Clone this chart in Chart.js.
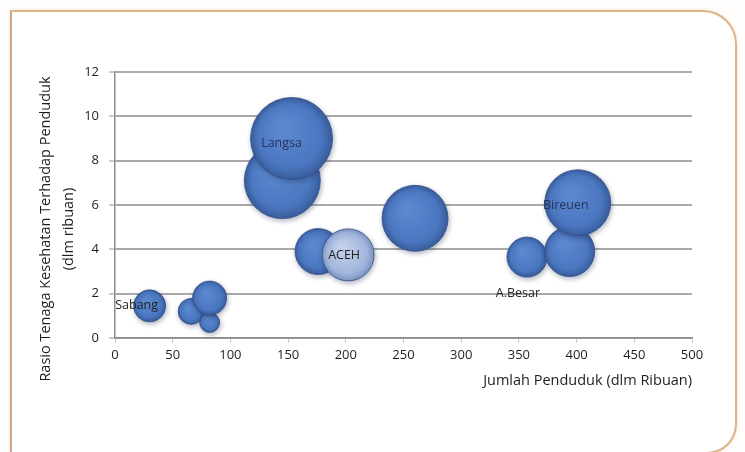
<!DOCTYPE html>
<html>
<head>
<meta charset="utf-8">
<script src="https://cdn.jsdelivr.net/npm/chart.js@4/dist/chart.umd.min.js"></script>
<style>
  html, body { margin: 0; padding: 0; background: #fffefc; }
  #wrap { position: relative; width: 745px; height: 452px; overflow: hidden; }
  #frame {
    position: absolute; left: 10px; top: 10px; width: 723px; height: 440px;
    border: 2px solid #ddb487; border-left-color: #c9a690;
    border-top-right-radius: 34px; border-bottom-right-radius: 30px;
    background: #ffffff;
    box-shadow: 0 0 3px rgba(230, 190, 140, 0.5);
  }
  #chart { position: absolute; left: 0; top: 0; }
</style>
</head>
<body>
<div id="wrap">
  <div id="frame"></div>
  <canvas id="chart" width="745" height="452"></canvas>
</div>
<script>
// jumlah penduduk (ribuan), rasio tenaga kesehatan, ukuran gelembung
var penduduk = [30, 66, 82, 82, 145, 153, 176, 202, 260, 357, 394, 401];
var rasio    = [1.45, 1.2, 0.7, 1.8, 7.1, 9.0, 3.9, 3.75, 5.4, 3.65, 3.9, 6.1];
var ukuran   = [16, 13, 10, 17, 38, 41, 23, 26, 33, 20, 25, 33];
var nama     = ['Sabang', '', '', '', '', 'Langsa', '', 'ACEH', '', 'A.Besar', '', 'Bireuen'];
// posisi teks label relatif ke titik (px)
var geserX   = [-13, 0, 0, 0, 0, -10, 0, -4, 0, -9, 0, -12];
var geserY   = [0, 0, 0, 0, 0, 5, 0, 1, 0, 36, 0, 3];

var xTicks = [0, 50, 100, 150, 200, 250, 300, 350, 400, 450, 500];
var yTicks = [0, 2, 4, 6, 8, 10, 12];
var judulY = ['Rasio Tenaga Kesehatan Terhadap Penduduk', '(dlm ribuan)'];
var judulX = 'Jumlah Penduduk (dlm Ribuan)';

var points = penduduk.map(function (p, i) {
    return { x: p, y: rasio[i], r: ukuran[i] };
});

function bubbleFill(context) {
    var chart = context.chart;
    var raw = context.raw;
    var aceh = nama[context.dataIndex] === 'ACEH';
    var flat = aceh ? '#a3b6dc' : '#4a77c0';
    if (!raw || !chart.scales.x || !chart.scales.y) return flat;
    var px = chart.scales.x.getPixelForValue(raw.x);
    var py = chart.scales.y.getPixelForValue(raw.y);
    var r = raw.r;
    if (!isFinite(px) || !isFinite(py)) return flat;
    var g = chart.ctx.createRadialGradient(px - r * 0.25, py - r * 0.3, r * 0.1, px, py, r);
    if (aceh) {
        g.addColorStop(0, '#c3d0ea');
        g.addColorStop(0.75, '#a3b6dc');
        g.addColorStop(1, '#7f97c6');
    } else {
        g.addColorStop(0, '#5b88cf');
        g.addColorStop(0.75, '#4a77c0');
        g.addColorStop(1, '#3a5e9e');
    }
    return g;
}

var labelPlugin = {
    id: 'bubbleLabels',
    afterDatasetsDraw: function (chart) {
        var ctx = chart.ctx;
        var meta = chart.getDatasetMeta(0);
        ctx.save();
        ctx.font = '12.5px "Open Sans"';
        ctx.textAlign = 'center';
        ctx.textBaseline = 'middle';
        meta.data.forEach(function (el, i) {
            if (!nama[i]) return;
            ctx.fillStyle = nama[i] === 'ACEH' || nama[i] === 'A.Besar' || nama[i] === 'Sabang' ? '#222222' : '#24345a';
            ctx.fillText(nama[i], el.x + geserX[i], el.y + geserY[i]);
        });
        ctx.restore();
    }
};

// judul sumbu Y ditulis sendiri supaya bisa digeser sedikit ke bawah
var yTitlePlugin = {
    id: 'yTitle',
    afterDraw: function (chart) {
        var ctx = chart.ctx;
        var area = chart.chartArea;
        ctx.save();
        ctx.translate(46, (area.top + area.bottom) / 2 + 24);
        ctx.rotate(-Math.PI / 2);
        ctx.font = '14.5px "Open Sans"';
        ctx.fillStyle = '#1e1e1e';
        ctx.textAlign = 'center';
        ctx.textBaseline = 'middle';
        judulY.forEach(function (t, i) {
            ctx.fillText(t, 0, i * 23);
        });
        ctx.restore();
    }
};

var shadowPlugin = {
    id: 'bubbleShadow',
    beforeDatasetsDraw: function (chart) {
        chart.ctx.save();
        chart.ctx.shadowColor = 'rgba(40, 50, 80, 0.35)';
        chart.ctx.shadowBlur = 5;
        chart.ctx.shadowOffsetX = 1;
        chart.ctx.shadowOffsetY = 2;
    },
    afterDatasetsDraw: function (chart) {
        chart.ctx.restore();
    }
};

var chart = new Chart(document.getElementById('chart'), {
    type: 'bubble',
    data: {
        datasets: [{
            label: 'Rasio',
            data: points,
            backgroundColor: bubbleFill,
            borderColor: 'rgba(50, 80, 135, 0.8)',
            borderWidth: 1,
            clip: false
        }]
    },
    plugins: [shadowPlugin, labelPlugin, yTitlePlugin],
    options: {
        responsive: false,
        animation: false,
        events: [],
        layout: { padding: { left: 0, right: 53, top: 72, bottom: 58 } },
        plugins: {
            legend: { display: false },
            tooltip: { enabled: false }
        },
        scales: {
            x: {
                type: 'linear',
                min: 0,
                max: 500,
                afterBuildTicks: function (axis) {
                    axis.ticks = xTicks.map(function (v) { return { value: v }; });
                },
                afterFit: function (axis) { axis.height = 56; },
                grid: {
                    drawOnChartArea: false,
                    drawTicks: true,
                    tickLength: 5,
                    color: '#c8c8c8'
                },
                border: { color: '#8c8c8c', width: 1.5 },
                ticks: {
                    color: '#1e1e1e',
                    padding: 4,
                    maxRotation: 0,
                    font: { family: '"Open Sans"', size: 13 }
                },
                title: {
                    display: true,
                    text: judulX,
                    align: 'end',
                    color: '#1e1e1e',
                    padding: { top: 6 },
                    font: { family: '"Open Sans"', size: 14.5 }
                }
            },
            y: {
                type: 'linear',
                min: 0,
                max: 12,
                afterBuildTicks: function (axis) {
                    axis.ticks = yTicks.map(function (v) { return { value: v }; });
                },
                afterFit: function (axis) { axis.width = 115; },
                grid: {
                    color: '#aaaaaa',
                    lineWidth: 2,
                    tickLength: 6,
                    tickColor: '#9a9a9a',
                    tickWidth: 1
                },
                border: { color: '#8c8c8c', width: 1.5 },
                ticks: {
                    color: '#1e1e1e',
                    padding: 10,
                    font: { family: '"Open Sans"', size: 13 }
                }
            }
        }
    }
});
// gradien butuh posisi skala yang sudah final
chart.update();
</script>
</body>
</html>
